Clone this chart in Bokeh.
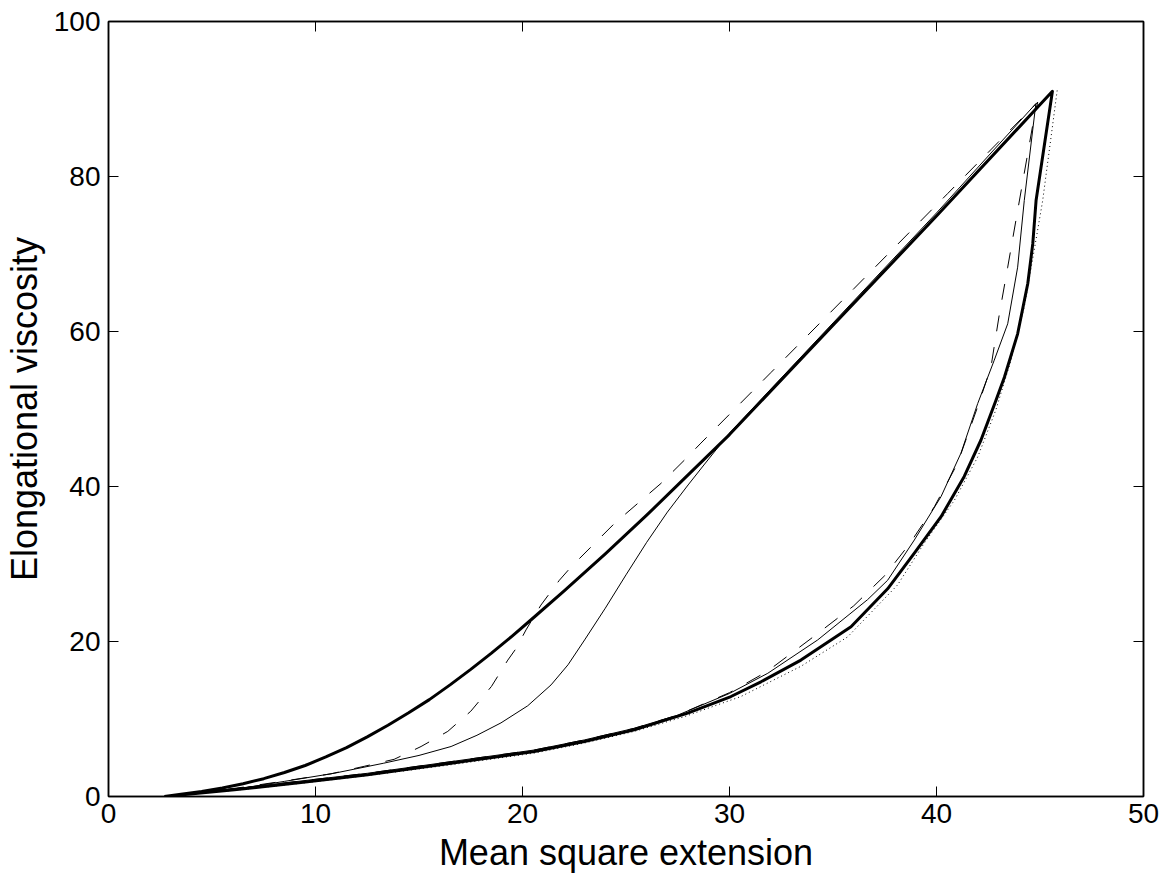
from bokeh.plotting import figure
from bokeh.models import Range1d, LinearAxis, FixedTicker, CustomJSTickFormatter
from bokeh.embed import file_html
from bokeh.resources import INLINE

# ---------------- data ----------------
x_ticks = [0, 10, 20, 30, 40, 50]
y_ticks = [0, 20, 40, 60, 80, 100]
x_title = "Mean square extension"
y_title = "Elongational viscosity"

# thick solid loop
thick_x_up = [2.7, 3.5, 4.5, 5.5, 6.5, 7.5, 8.5, 9.5, 10.5, 11.5, 12.5, 13.5, 14.5, 15.5, 16.5,
              17.5, 18.5, 19.5, 20.5, 22, 24, 26, 28, 30, 35, 40, 45.6]
thick_y_up = [0, 0.3, 0.65, 1.1, 1.65, 2.3, 3.1, 4.0, 5.1, 6.3, 7.7, 9.2, 10.8, 12.5, 14.4,
              16.4, 18.5, 20.7, 23.0, 26.5, 31.3, 36.3, 41.5, 46.7, 60.8, 74.9, 91.0]
thick_x_dn = [44.81, 44.65, 44.41, 43.92, 43.28, 42.87, 42.15, 41.34, 40.22, 38.93, 37.64, 35.87,
              33.45, 31.52, 30.07, 27.98, 25.4, 22.99, 20.57, 18.96, 16.55, 12.52, 9.3, 6.08, 2.7]
thick_y_dn = [76.9, 71.3, 66.2, 59.7, 54.1, 51.1, 46.0, 41.3, 36.1, 31.4, 26.8, 21.9,
              17.6, 14.8, 12.9, 10.75, 8.6, 7.1, 5.8, 5.2, 4.3, 2.8, 1.8, 0.86, 0]

# thin solid loop
thin_x_up = [2.7, 4.5, 6.5, 8.5, 10.9, 13.3, 15.0, 16.55, 17.8, 18.96, 20.25, 21.38, 22.2, 23.0,
             24.0, 25.0, 26.0, 27.0, 28.0, 28.8, 30, 35, 40, 44.8]
thin_y_up = [0, 0.5, 1.1, 1.95, 3.0, 4.3, 5.3, 6.45, 7.9, 9.5, 11.7, 14.4, 17.0, 20.2,
             24.3, 28.6, 32.8, 36.7, 40.2, 42.9, 46.9, 61.1, 75.3, 89.4]
thin_x_dn = [44.24, 43.92, 43.44, 42.79, 41.99, 41.18, 40.22, 38.93, 37.64, 36.67, 34.26, 31.85,
             30.0, 27.5, 25.4, 22.99, 20.57, 16.55, 12.52, 9.3, 6.08, 2.7]
thin_y_dn = [76.9, 68.3, 61.0, 56.3, 50.7, 44.3, 38.7, 33.1, 27.9, 25.4, 20.2, 15.9,
             13.3, 10.5, 8.8, 7.3, 6.0, 4.5, 3.0, 2.0, 1.0, 0]

# dashed loop
dash_x_up = [2.7, 4.5, 6.5, 8.5, 10.7, 12.36, 13.8, 15.1, 16.39, 17.5, 18.5, 19.29, 19.69, 20.17,
             20.89, 21.78, 22.34, 23.31, 24.43, 25.56, 26.69, 27.82, 28.62, 32, 36, 40.54, 44.89]
dash_y_up = [0, 0.5, 1.2, 2.0, 2.9, 3.9, 4.8, 6.45, 8.4, 11.0, 14.2, 17.6, 19.1, 21.5,
             24.7, 27.9, 29.6, 32.2, 35.2, 37.8, 40.4, 43.4, 45.6, 54.7, 65.5, 77.8, 89.6]
dash_x_dn = [44.72, 43.92, 43.44, 43.04, 42.63, 41.99, 41.02, 39.9, 38.7, 37.5, 36.0, 34.0,
             31.8, 30.0, 27.5, 25.4, 22.99, 20.57, 16.55, 12.52, 9.3, 6.08, 2.7]
dash_y_dn = [87.7, 75.6, 68.3, 62.3, 55.4, 50.3, 43.0, 37.4, 32.6, 28.5, 24.6, 20.5,
             16.1, 13.4, 10.5, 8.8, 7.3, 6.0, 4.5, 3.0, 2.0, 1.0, 0]

# dotted branch
dot_x = [45.83, 45.13, 44.72, 44.24, 43.6, 42.87, 41.99, 40.86, 39.41, 38.12, 35.71, 33.45,
         30.55, 27.82, 25.4, 22.99, 20.57, 16.55, 12.52, 9.3, 6.08, 2.7]
dot_y = [91.1, 76.9, 70.5, 63.2, 56.3, 49.9, 43.8, 38.2, 32.7, 27.3, 20.6, 16.8,
         12.9, 10.3, 8.4, 6.9, 5.6, 4.1, 2.7, 1.7, 0.8, 0]

FONT = "Liberation Sans"

p = figure(width=1162, height=875, output_backend="svg", toolbar_location=None,
           x_range=Range1d(0, 50), y_range=Range1d(0, 100),
           min_border_left=108, min_border_right=19, min_border_top=21, min_border_bottom=78)
p.background_fill_color = "white"
p.border_fill_color = "white"
p.grid.visible = False
p.outline_line_color = "black"
p.outline_line_width = 1.5

for ax in (p.xaxis[0], p.yaxis[0]):
    ax.major_tick_in = 10
    ax.major_tick_out = 0
    ax.minor_tick_line_color = None
    ax.axis_line_color = "black"
    ax.axis_line_width = 1.5
    ax.major_tick_line_color = "black"
    ax.major_tick_line_width = 1
    ax.major_label_text_font = FONT
    ax.major_label_text_font_size = "28px"
    ax.major_label_text_color = "black"
    ax.major_label_text_line_height = 1.0
    ax.axis_label_text_font = FONT
    ax.axis_label_text_font_size = "36px"
    ax.axis_label_text_font_style = "normal"
    ax.axis_label_text_color = "black"
    ax.axis_label_text_line_height = 1.0

p.xaxis[0].ticker = FixedTicker(ticks=x_ticks)
p.yaxis[0].ticker = FixedTicker(ticks=y_ticks)
p.xaxis[0].axis_label = x_title
p.yaxis[0].axis_label = y_title
p.xaxis[0].major_label_standoff = 7
p.xaxis[0].axis_label_standoff = 6
p.yaxis[0].major_label_standoff = 8
p.yaxis[0].axis_label_standoff = 6

for loc, ticks in (("above", x_ticks), ("right", y_ticks)):
    ax = LinearAxis(ticker=FixedTicker(ticks=ticks),
                    formatter=CustomJSTickFormatter(code="return ''"))
    ax.major_tick_in = 10
    ax.major_tick_out = 0
    ax.minor_tick_line_color = None
    ax.major_label_standoff = 0
    ax.major_label_text_font_size = "1px"
    ax.axis_line_color = "black"
    ax.axis_line_width = 1.5
    p.add_layout(ax, loc)

p.line(dot_x, dot_y, line_color="black", line_width=1, line_dash="1 3")
p.line(dash_x_up + dash_x_dn, dash_y_up + dash_y_dn, line_color="black", line_width=1,
       line_dash="16 16")
p.line(thin_x_up + thin_x_dn, thin_y_up + thin_y_dn, line_color="black", line_width=1)
p.line(thick_x_up + thick_x_dn, thick_y_up + thick_y_dn, line_color="black", line_width=3,
       line_join="round")

open("out.html", "w").write(file_html(p, INLINE))
